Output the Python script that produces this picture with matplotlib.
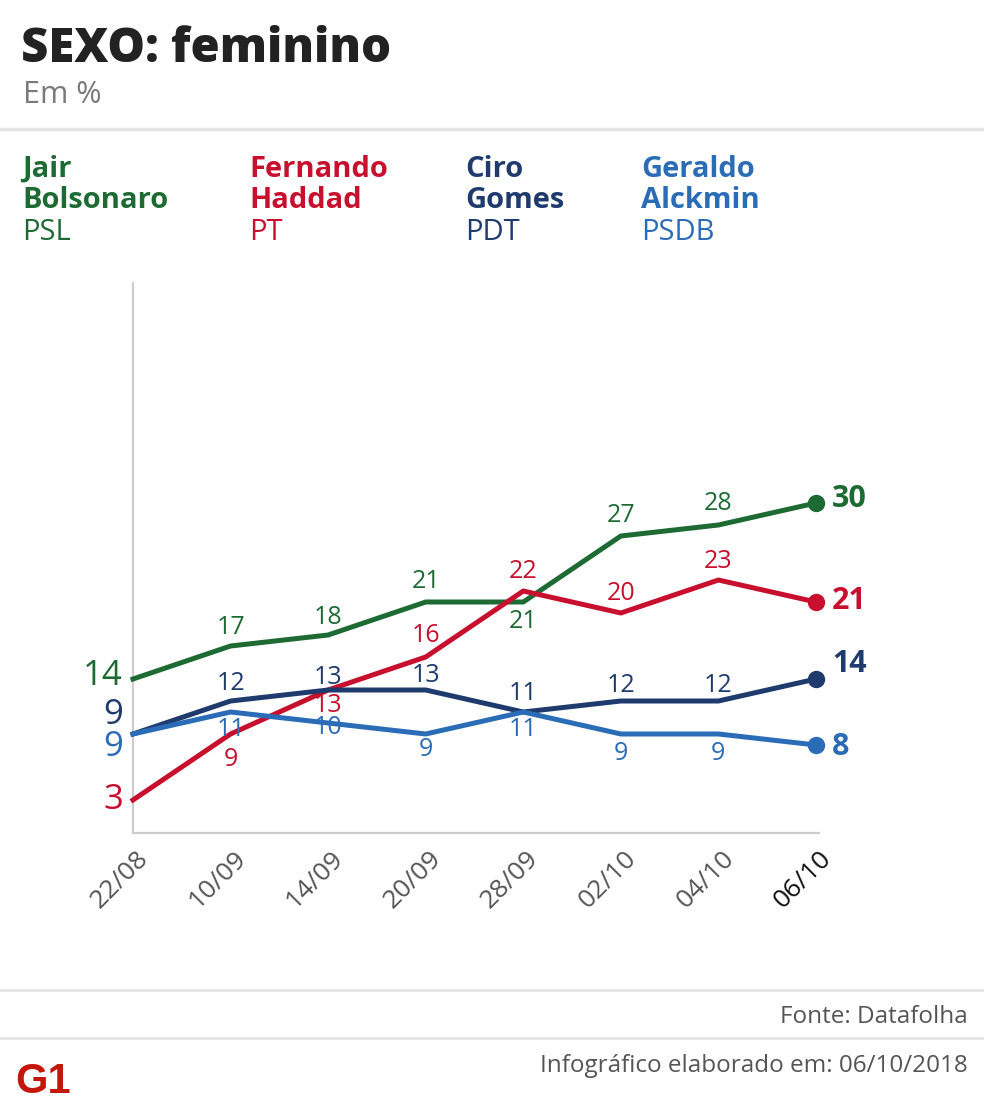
import numpy as np
import matplotlib
matplotlib.use("Agg")
import matplotlib.pyplot as plt

# == data ==
dates = ["22/08", "10/09", "14/09", "20/09", "28/09", "02/10", "04/10", "06/10"]
bolsonaro = [14, 17, 18, 21, 21, 27, 28, 30]
haddad    = [3, 9, 13, 16, 22, 20, 23, 21]
ciro      = [9, 12, 13, 13, 11, 12, 12, 14]
alckmin   = [9, 11, 10, 9, 11, 9, 9, 8]

names   = [("Jair", "Bolsonaro", "PSL"), ("Fernando", "Haddad", "PT"),
           ("Ciro", "Gomes", "PDT"), ("Geraldo", "Alckmin", "PSDB")]
series  = [bolsonaro, haddad, ciro, alckmin]
colors  = ["#1d6b33", "#c8102e", "#1f3a6d", "#2b6cb6"]

# == styling: vertical offsets (px) of the value labels of inner points ==
label_dy = [
    [18, 17, 20, -20, 21, 21],
    [-25, -15, 22, 19, 19, 18],
    [17, 13, 14, 18, 16, 16],
    [-17, -4, -16, -18, -20, -20],
]
first_dy = [3, 0, 19, -13]    # px, keeps the two "9" apart
end_dy = [4, 1, 15, -2]

plt.rcParams['font.family'] = ['Open Sans', 'DejaVu Sans']

W, H = 984, 1110
fig = plt.figure(figsize=(W / 100, H / 100), dpi=100)

def px(x, y):
    return x / W, 1 - y / H

# == header ==
fig.text(*px(21, 62), "SEXO: feminino", fontsize=34, fontweight='heavy', color="#222222", va='baseline')
fig.text(*px(23, 103), "Em %", fontsize=22, color="#7a7a7a", va='baseline')
fig.add_artist(plt.Line2D([0, 1], [1 - 129 / H] * 2, color="#e3e3e3", lw=2.5))

# == legend ==
legend_x = [22, 249, 465, 641]
for (first, last, party), c, lx in zip(names, colors, legend_x):
    fig.text(*px(lx, 177), first, fontsize=21, fontweight='bold', color=c, va='baseline')
    fig.text(*px(lx, 208), last, fontsize=21, fontweight='bold', color=c, va='baseline')
    fig.text(*px(lx, 240), party, fontsize=21, color=c, va='baseline')

# == chart ==
ax = fig.add_axes([133 / W, 1 - 833 / H, (816 - 133) / W, 550 / H])
ax.set_xlim(0, len(dates) - 1)
ax.set_ylim(0, 50)
for s in ["top", "right"]:
    ax.spines[s].set_visible(False)
for s in ["left", "bottom"]:
    ax.spines[s].set_color("#cccccc")
    ax.spines[s].set_linewidth(1.6)
ax.spines["bottom"].set_bounds(0, 7.03)
ax.set_xticks([])
ax.set_yticks([])

x = np.arange(len(dates))
for vals, c, dys, fo, eo in zip(series, colors, label_dy, first_dy, end_dy):
    ax.plot(x, vals, color=c, lw=3.6, clip_on=False, solid_joinstyle='round', zorder=3)
    ax.plot(x[-1], vals[-1], 'o', color=c, ms=11.5, clip_on=False, zorder=4)
    ax.annotate(str(vals[0]), (x[0], vals[0]), xytext=(-10, fo), textcoords='offset pixels',
                ha='right', va='center', fontsize=25, color=c)
    ax.annotate(str(vals[-1]), (x[-1], vals[-1]), xytext=(16, eo), textcoords='offset pixels',
                ha='left', va='center', fontsize=22, fontweight='bold', color=c)
    for i in range(1, len(dates) - 1):
        ax.annotate(str(vals[i]), (x[i], vals[i]), xytext=(0, dys[i - 1]), textcoords='offset pixels',
                    ha='center', va='center', fontsize=18, color=c, zorder=5)

for i, d in enumerate(dates):
    ax.annotate(d, (x[i], 0), xytext=(3, -13), textcoords='offset pixels',
                ha='right', va='top', rotation=45, rotation_mode='anchor',
                fontsize=19, color="#111111" if i == len(dates) - 1 else "#555555")

# == footer ==
fig.add_artist(plt.Line2D([0, 1], [1 - 990 / H] * 2, color="#e3e3e3", lw=2))
fig.add_artist(plt.Line2D([0, 1], [1 - 1038 / H] * 2, color="#e3e3e3", lw=2))
fig.text(*px(968, 1023), "Fonte: Datafolha", fontsize=17.5, color="#555555", ha='right', va='baseline')
fig.text(*px(968, 1072), "Infográfico elaborado em: 06/10/2018", fontsize=17.5, color="#555555",
         ha='right', va='baseline')
fig.text(*px(15, 1093), "G1", fontsize=30, fontweight='bold', color="#c4170c",
         va='baseline', family=['Liberation Sans'])

fig.savefig("out.png", dpi=100)
